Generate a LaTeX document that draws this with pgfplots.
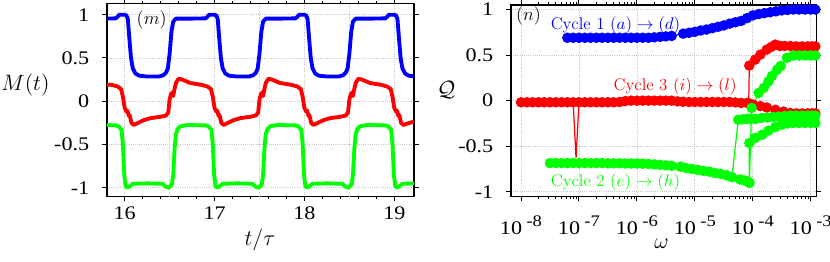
\documentclass[border=0pt]{standalone}
\usepackage{fontspec}
\usepackage{graphicx}
\usepackage{pgfplots}
\pgfplotsset{compat=1.18}
\newfontfamily\tickfont{Liberation Serif}
\definecolor{cblue}{rgb}{0,0,1}
\definecolor{cred}{rgb}{1,0,0}
\definecolor{cgreen}{rgb}{0,1,0}
\newcommand\tl[1]{\scalebox{1.15}[1]{#1}}
\newcommand\xl[1]{\scalebox{1.15}[1]{10\hspace{2.5pt}\raisebox{0.42em}{\fontsize{10.5}{12}\selectfont #1}}}
\pgfplotsset{
  myaxis/.style={
    scale only axis,
    axis line style={line width=0.8pt},
    tick style={black, line width=0.6pt},
    tick align=outside, tick pos=both,
    xticklabel pos=lower, yticklabel pos=left,
    major tick length=3pt, minor tick length=1.8pt,
    grid=major, grid style={densely dotted, gray!45, line width=0.5pt},
    tick label style={font=\tickfont\fontsize{12.5}{15}\selectfont},
    label style={font=\fontsize{15.5}{18}\selectfont},
  },
  curve/.style={line width=2.5pt, line join=round, line cap=round},
  dots/.style={line width=0.8pt, mark=*, mark size=3pt},
}
\begin{document}
\begin{tikzpicture}
\path[use as bounding box] (-69.55pt,-42.575pt) rectangle (469.95pt,127.725pt);
% ---------------- left panel
\begin{axis}[myaxis, at={(0pt,0pt)}, anchor=south west,
  width=199.55pt, height=125.3pt,
  xmin=15.803, xmax=19.219, ymin=-1.102, ymax=1.127,
  xtick={16,17,18,19}, xticklabels={\tl{16},\tl{17},\tl{18},\tl{19}}, minor x tick num=4,
  extra x ticks={16.5,17.5,18.5}, extra x tick labels={},
  extra x tick style={grid=major, major tick length=0pt},
  ytick={-1,-0.5,0,0.5,1}, yticklabels={\tl{-1},\tl{-0.5},\tl{0},\tl{0.5},\tl{1}},
  yticklabel style={xshift=-5pt},
  xlabel={$t/\tau$}, ylabel={\fontsize{14}{16}\selectfont$M(t)$},
  xlabel style={at={(axis description cs:0.498,-0.226)}, anchor=center},
  ylabel style={rotate=-90, at={(axis description cs:-0.2655,0.578)}, anchor=center},
]
\addplot[curve, color=cblue] coordinates {
(15.80,0.955) (15.90,0.958) (15.92,0.975) (15.94,1.0) (16.00,1.0) (16.02,0.99) (16.035,0.95) (16.05,0.75) (16.07,0.5) (16.09,0.38) (16.12,0.32) (16.16,0.295) (16.25,0.285) (16.38,0.285) (16.43,0.30) (16.46,0.33) (16.48,0.38) (16.50,0.55) (16.52,0.80) (16.54,0.92) (16.57,0.955) (16.75,0.955)
(16.90,0.958) (16.92,0.975) (16.94,1.0) (17.00,1.0) (17.02,0.99) (17.035,0.95) (17.05,0.75) (17.07,0.5) (17.09,0.38) (17.12,0.32) (17.16,0.295) (17.25,0.285) (17.38,0.285) (17.43,0.30) (17.46,0.33) (17.48,0.38) (17.50,0.55) (17.52,0.80) (17.54,0.92) (17.57,0.955) (17.75,0.955)
(17.90,0.958) (17.92,0.975) (17.94,1.0) (18.00,1.0) (18.02,0.99) (18.035,0.95) (18.05,0.75) (18.07,0.5) (18.09,0.38) (18.12,0.32) (18.16,0.295) (18.25,0.285) (18.38,0.285) (18.43,0.30) (18.46,0.33) (18.48,0.38) (18.50,0.55) (18.52,0.80) (18.54,0.92) (18.57,0.955) (18.75,0.955)
(18.90,0.958) (18.92,0.975) (18.94,1.0) (19.00,1.0) (19.02,0.99) (19.035,0.95) (19.05,0.75) (19.07,0.5) (19.09,0.38) (19.12,0.32) (19.16,0.295) (19.22,0.288)
};
\addplot[curve, color=cred] coordinates {
(15.80,0.19) (15.85,0.19) (15.92,0.17) (15.96,0.14) (15.98,0.05) (16.00,-0.08) (16.02,-0.12) (16.03,-0.11) (16.045,-0.17) (16.055,-0.16) (16.075,-0.25) (16.10,-0.275) (16.14,-0.255) (16.21,-0.22) (16.29,-0.195) (16.40,-0.18) (16.46,-0.165) (16.485,-0.13) (16.50,0.02) (16.515,0.08) (16.53,0.10) (16.54,0.06) (16.55,0.12) (16.57,0.21) (16.60,0.26) (16.64,0.25) (16.73,0.21) (16.85,0.19)
(16.92,0.17) (16.96,0.14) (16.98,0.05) (17.00,-0.08) (17.02,-0.12) (17.03,-0.11) (17.045,-0.17) (17.055,-0.16) (17.075,-0.25) (17.10,-0.275) (17.14,-0.255) (17.21,-0.22) (17.29,-0.195) (17.40,-0.18) (17.46,-0.165) (17.485,-0.13) (17.50,0.02) (17.515,0.08) (17.53,0.10) (17.54,0.06) (17.55,0.12) (17.57,0.21) (17.60,0.26) (17.64,0.25) (17.73,0.21) (17.85,0.19)
(17.92,0.17) (17.96,0.14) (17.98,0.05) (18.00,-0.08) (18.02,-0.12) (18.03,-0.11) (18.045,-0.17) (18.055,-0.16) (18.075,-0.25) (18.10,-0.275) (18.14,-0.255) (18.21,-0.22) (18.29,-0.195) (18.40,-0.18) (18.46,-0.165) (18.485,-0.13) (18.50,0.02) (18.515,0.08) (18.53,0.10) (18.54,0.06) (18.55,0.12) (18.57,0.21) (18.60,0.26) (18.64,0.25) (18.73,0.21) (18.85,0.19)
(18.92,0.17) (18.96,0.14) (18.98,0.05) (19.00,-0.08) (19.02,-0.12) (19.03,-0.11) (19.045,-0.17) (19.055,-0.16) (19.075,-0.25) (19.10,-0.275) (19.14,-0.26) (19.22,-0.235)
};
\addplot[curve, color=cgreen] coordinates {
(15.80,-0.275) (15.90,-0.28) (15.93,-0.29) (15.965,-0.33) (15.98,-0.5) (15.995,-0.85) (16.01,-0.98) (16.03,-1.0) (16.06,-0.98) (16.09,-0.955) (16.25,-0.95) (16.42,-0.955) (16.46,-0.99) (16.49,-1.0) (16.525,-0.965) (16.54,-0.85) (16.555,-0.55) (16.57,-0.38) (16.59,-0.32) (16.62,-0.29) (16.70,-0.275)
(16.90,-0.28) (16.93,-0.29) (16.965,-0.33) (16.98,-0.5) (16.995,-0.85) (17.01,-0.98) (17.03,-1.0) (17.06,-0.98) (17.09,-0.955) (17.25,-0.95) (17.42,-0.955) (17.46,-0.99) (17.49,-1.0) (17.525,-0.965) (17.54,-0.85) (17.555,-0.55) (17.57,-0.38) (17.59,-0.32) (17.62,-0.29) (17.70,-0.275)
(17.90,-0.28) (17.93,-0.29) (17.965,-0.33) (17.98,-0.5) (17.995,-0.85) (18.01,-0.98) (18.03,-1.0) (18.06,-0.98) (18.09,-0.955) (18.25,-0.95) (18.42,-0.955) (18.46,-0.99) (18.49,-1.0) (18.525,-0.965) (18.54,-0.85) (18.555,-0.55) (18.57,-0.38) (18.59,-0.32) (18.62,-0.29) (18.70,-0.275)
(18.90,-0.28) (18.93,-0.29) (18.965,-0.33) (18.98,-0.5) (18.995,-0.85) (19.01,-0.98) (19.03,-1.0) (19.06,-0.98) (19.09,-0.955) (19.22,-0.95)
};
\node[font=\fontsize{12.5}{14}\selectfont] at (axis cs:16.30,0.94) {$(m)$};
\end{axis}
% ---------------- right panel
\begin{axis}[myaxis, at={(262.6pt,0pt)}, anchor=south west,
  width=198.6pt, height=124.5pt, clip=false,
  xmode=log, xmin=6.72e-9, xmax=1.259e-3, ymin=-1.052, ymax=1.05,
  xtick={1e-8,1e-7,1e-6,1e-5,1e-4,1e-3},
  xticklabels={\xl{-8},\xl{-7},\xl{-6},\xl{-5},\xl{-4},\xl{-3}},
  xticklabel style={yshift=-6pt},
  ytick={-1,-0.5,0,0.5,1}, yticklabels={\tl{-1},\tl{-0.5},\tl{0},\tl{0.5},\tl{1}},
  yticklabel style={xshift=-5pt},
  xlabel={$\omega$}, ylabel={$\mathcal{Q}$},
  xlabel style={at={(axis description cs:0.493,-0.248)}, anchor=center},
  ylabel style={rotate=-90, at={(axis description cs:-0.212,0.556)}, anchor=center},
]
% red branches (drawn first, green lies over them)
\addplot[cred, line width=0.8pt] coordinates {(7.94e-8,-0.018) (8.91e-8,-0.63) (1e-7,-0.018)};
\addplot[dots, color=cred, mark options={fill=cred, draw=cred}] coordinates {
(1e-8,-0.018) (1.26e-8,-0.018) (1.58e-8,-0.018) (2e-8,-0.018) (2.51e-8,-0.018) (3.16e-8,-0.018) (3.98e-8,-0.018) (5.01e-8,-0.018) (6.31e-8,-0.018) (7.94e-8,-0.018) (1e-7,-0.018) (1.26e-7,-0.018) (1.58e-7,-0.018) (2e-7,-0.018) (2.51e-7,-0.018) (3.16e-7,-0.018) (3.98e-7,-0.018) (5.01e-7,-0.015) (6.31e-7,-0.005) (7.94e-7,0.0) (1e-6,0.0) (1.26e-6,0.0) (1.58e-6,0.0) (2e-6,0.0) (2.51e-6,0.0) (3.16e-6,0.0) (3.98e-6,0.0) (5.01e-6,-0.008) (6.31e-6,-0.012) (7.94e-6,-0.015) (1e-5,-0.015) (1.26e-5,-0.015) (1.58e-5,-0.015) (2e-5,-0.015) (2.51e-5,-0.015) (3.16e-5,-0.015) (3.98e-5,-0.015) (5.01e-5,-0.02) (6.31e-5,-0.025) (7.94e-5,-0.025) (8.51e-5,-0.03)
(8.71e-5,0.385) (1.10e-4,0.45) (1.35e-4,0.505) (1.74e-4,0.56) (2.09e-4,0.59) (2.45e-4,0.615) (2.95e-4,0.60) (3.55e-4,0.60) (4.47e-4,0.60) (5.62e-4,0.595) (7.08e-4,0.595) (8.91e-4,0.595) (1.05e-3,0.595) (1.2e-3,0.595)
};
\addplot[dots, color=cred, mark options={fill=cred, draw=cred}] coordinates {
(8.51e-5,-0.03) (1.02e-4,-0.044) (1.35e-4,-0.06) (1.74e-4,-0.075) (2.45e-4,-0.10) (3.39e-4,-0.12) (4.47e-4,-0.135) (5.62e-4,-0.14) (7.08e-4,-0.14) (8.91e-4,-0.14) (1.05e-3,-0.14) (1.2e-3,-0.14)
};
% green branches
\addplot[dots, color=cgreen, mark options={fill=cgreen, draw=cgreen}] coordinates {
(3.16e-8,-0.685) (3.98e-8,-0.685) (5.01e-8,-0.685) (6.31e-8,-0.685) (7.94e-8,-0.685) (1e-7,-0.685) (1.26e-7,-0.685) (1.58e-7,-0.685) (2e-7,-0.685) (2.51e-7,-0.685) (3.16e-7,-0.688) (3.98e-7,-0.688) (5.01e-7,-0.688) (6.31e-7,-0.69) (7.94e-7,-0.69) (1e-6,-0.69) (1.26e-6,-0.692) (1.58e-6,-0.695) (2e-6,-0.70) (2.51e-6,-0.705) (3.16e-6,-0.71) (3.98e-6,-0.715)
(5.62e-6,-0.725) (7.08e-6,-0.74) (8.91e-6,-0.75) (1.12e-5,-0.76) (1.41e-5,-0.77) (1.78e-5,-0.78) (2.24e-5,-0.795) (2.82e-5,-0.805) (3.55e-5,-0.82) (4.37e-5,-0.84)
(5.62e-5,-0.21) (6.76e-5,-0.205) (7.94e-5,-0.20) (9.33e-5,-0.20) (1.12e-4,-0.20) (1.41e-4,-0.19) (1.78e-4,-0.185) (2.24e-4,-0.18) (2.82e-4,-0.175) (3.55e-4,-0.17) (4.47e-4,-0.165) (5.62e-4,-0.165) (7.08e-4,-0.165) (8.91e-4,-0.165) (1.05e-3,-0.165) (1.2e-3,-0.165)
};
\addplot[dots, color=cgreen, mark options={fill=cgreen, draw=cgreen}] coordinates {
(6.03e-5,-0.865) (7.08e-5,-0.875) (7.94e-5,-0.885) (8.71e-5,-0.90) (8.71e-5,-0.465) (1.10e-4,-0.41) (1.45e-4,-0.375) (1.86e-4,-0.33) (2.45e-4,-0.29) (3.16e-4,-0.265) (3.98e-4,-0.25) (5.01e-4,-0.245) (6.31e-4,-0.245) (7.94e-4,-0.245) (1e-3,-0.245) (1.2e-3,-0.245)
};
\addplot[dots, color=cgreen, mark options={fill=cgreen, draw=cgreen}] coordinates {
(8.71e-5,-0.90) (9.55e-5,-0.08) (1.26e-4,0.085) (1.55e-4,0.14) (1.86e-4,0.21) (2.14e-4,0.27) (2.63e-4,0.34) (3.02e-4,0.38) (3.89e-4,0.47) (5.01e-4,0.495) (6.31e-4,0.495) (7.94e-4,0.495) (1e-3,0.495) (1.2e-3,0.495)
};
% blue branch
\addplot[dots, color=cblue, mark options={fill=cblue, draw=cblue}] coordinates {
(6.31e-8,0.69) (7.94e-8,0.69) (1e-7,0.69) (1.26e-7,0.69) (1.58e-7,0.69) (2e-7,0.69) (2.51e-7,0.69) (3.16e-7,0.69) (3.98e-7,0.69) (5.01e-7,0.69) (6.31e-7,0.69) (7.94e-7,0.69) (1e-6,0.69) (1.26e-6,0.69) (1.58e-6,0.69) (2e-6,0.695) (2.51e-6,0.70) (3.16e-6,0.705) (3.98e-6,0.71)
(6.31e-6,0.735) (7.94e-6,0.745) (1e-5,0.755) (1.26e-5,0.77) (1.58e-5,0.78) (2e-5,0.795) (2.51e-5,0.81) (3.16e-5,0.825) (3.98e-5,0.845) (5.01e-5,0.86) (6.31e-5,0.875) (7.94e-5,0.905) (1e-4,0.935) (1.26e-4,0.95) (1.58e-4,0.96) (2e-4,0.97) (2.51e-4,0.98) (3.16e-4,0.99) (3.98e-4,0.995) (5.01e-4,1.0) (6.31e-4,1.0) (7.94e-4,1.0) (1e-3,1.0) (1.2e-3,1.0)
};
\node[font=\fontsize{12.5}{14}\selectfont] at (axis cs:1.35e-8,0.926) {$(n)$};
\node[text=cblue, font=\fontsize{11}{13}\selectfont] at (axis cs:4.27e-7,0.824) {Cycle 1 $(a)\rightarrow(d)$};
\node[text=cred, font=\fontsize{11}{13}\selectfont] at (axis cs:4.57e-6,0.157) {Cycle 3 $(i)\rightarrow(l)$};
\node[text=cgreen, font=\fontsize{11}{13}\selectfont] at (axis cs:4.27e-7,-0.898) {Cycle 2 $(e)\rightarrow(h)$};
\end{axis}
\end{tikzpicture}
\end{document}
